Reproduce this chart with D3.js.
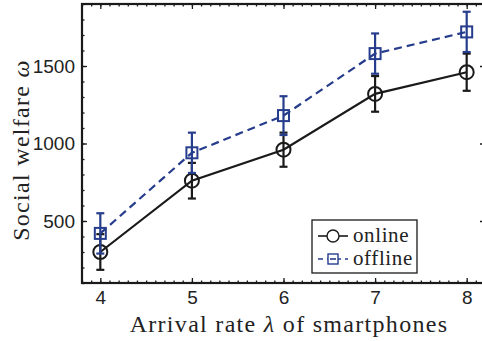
<!DOCTYPE html>
<html>
<head>
<meta charset="utf-8">
<script src="https://cdn.jsdelivr.net/npm/d3@7"></script>
<style>
  body { margin: 0; background: #fff; }
  svg { display: block; }
  .tick text { font-family: "Liberation Sans", Arial, sans-serif; font-size: 19px; fill: #222; }
  .title { font-family: "Liberation Serif", "DejaVu Serif", serif; font-size: 24px; letter-spacing: 1.3px; fill: #222; }
</style>
</head>
<body>
<svg></svg>
<script>
"use strict";

const rates = [4, 5, 6, 7, 8];
const onlineValues = [300, 760, 960, 1320, 1460];
const onlineErrors = [115, 115, 110, 115, 120];
const offlineValues = [420, 940, 1180, 1580, 1720];
const offlineErrors = [130, 130, 125, 130, 130];
const yTicks = [500, 1000, 1500];

const width = 482;
const height = 341;
const blue = "#263c8c";
const dark = "#1a1a1a";

const svg = d3.select("svg").attr("width", width).attr("height", height);

const xScale = d3.scaleLinear().domain([3.8, 8.2]).range([82, 485]);
const yScale = d3.scaleLinear().domain([100, 1900]).range([283, 4]);

const drawAxes = () => {
  const left = 82, right = 485, top = 4, bottom = 283;

  // minor ticks
  const xMinor = d3.range(38, 83).map((d) => d / 10);
  const yMinor = d3.range(100, 1901, 100);
  svg.append("g").attr("transform", `translate(0,${bottom})`)
    .call(d3.axisBottom(xScale).tickValues(xMinor).tickSize(-2.5).tickFormat(""));
  svg.append("g").attr("transform", `translate(0,${top})`)
    .call(d3.axisTop(xScale).tickValues(xMinor).tickSize(-2.5).tickFormat(""));
  svg.append("g").attr("transform", `translate(${left},0)`)
    .call(d3.axisLeft(yScale).tickValues(yMinor).tickSize(-2.5).tickFormat(""));
  svg.append("g").attr("transform", `translate(${right},0)`)
    .call(d3.axisRight(yScale).tickValues(yMinor).tickSize(-2.5).tickFormat(""));

  // major ticks
  const xAxis = svg.append("g").attr("transform", `translate(0,${bottom})`)
    .call(d3.axisBottom(xScale).tickValues(rates).tickSizeInner(-5).tickSizeOuter(0).tickPadding(8).tickFormat(d3.format("d")));
  xAxis.selectAll("text").attr("dy", "0.71em");
  svg.append("g").attr("transform", `translate(0,${top})`)
    .call(d3.axisTop(xScale).tickValues(rates).tickSizeInner(-5).tickSizeOuter(0).tickFormat(""));
  svg.append("g").attr("transform", `translate(${left},0)`)
    .call(d3.axisLeft(yScale).tickValues(yTicks).tickSizeInner(-5).tickSizeOuter(0).tickPadding(7).tickFormat(d3.format("d")));
  svg.append("g").attr("transform", `translate(${right},0)`)
    .call(d3.axisRight(yScale).tickValues(yTicks).tickSizeInner(-5).tickSizeOuter(0).tickFormat(""));

  svg.selectAll(".domain").remove();
  svg.selectAll(".tick line").attr("stroke", dark).attr("stroke-width", 1.3);

  svg.append("rect")
    .attr("x", left).attr("y", top)
    .attr("width", right - left).attr("height", bottom - top)
    .attr("fill", "none").attr("stroke", dark).attr("stroke-width", 2.2);
};

const drawSeries = (values, errors, color, dash, marker) => {
  const points = rates.map((r, i) => ({ x: r, y: values[i], e: errors[i] }));
  const g = svg.append("g");

  g.append("path")
    .datum(points)
    .attr("fill", "none")
    .attr("stroke", color)
    .attr("stroke-width", 2.2)
    .attr("stroke-dasharray", dash)
    .attr("d", d3.line().x((d) => xScale(d.x)).y((d) => yScale(d.y)));

  const bars = g.selectAll(".err").data(points).enter().append("g").attr("class", "err");
  bars.append("line")
    .attr("x1", (d) => xScale(d.x)).attr("x2", (d) => xScale(d.x))
    .attr("y1", (d) => yScale(d.y - d.e)).attr("y2", (d) => yScale(d.y + d.e))
    .attr("stroke", color).attr("stroke-width", 2.2);
  [-1, 1].forEach((s) => {
    bars.append("line")
      .attr("x1", (d) => xScale(d.x) - 4).attr("x2", (d) => xScale(d.x) + 4)
      .attr("y1", (d) => yScale(d.y + s * d.e)).attr("y2", (d) => yScale(d.y + s * d.e))
      .attr("stroke", color).attr("stroke-width", 2.2);
  });

  if (marker === "circle") {
    g.selectAll("circle").data(points).enter().append("circle")
      .attr("cx", (d) => xScale(d.x)).attr("cy", (d) => yScale(d.y))
      .attr("r", 7).attr("fill", "none").attr("stroke", color).attr("stroke-width", 2);
  } else {
    g.selectAll("rect").data(points).enter().append("rect")
      .attr("x", (d) => xScale(d.x) - 5.5).attr("y", (d) => yScale(d.y) - 5.5)
      .attr("width", 11).attr("height", 11)
      .attr("fill", "none").attr("stroke", color).attr("stroke-width", 2);
  }
};

const drawLegend = () => {
  const lg = svg.append("g").attr("transform", "translate(312,220)");
  lg.append("rect").attr("width", 105).attr("height", 53)
    .attr("fill", "#fff").attr("stroke", dark).attr("stroke-width", 1.3);

  const rows = [
    { label: "online", color: dark, dash: null, marker: "circle", y: 16 },
    { label: "offline", color: blue, dash: "5,4", marker: "square", y: 39 },
  ];
  rows.forEach((row) => {
    lg.append("line").attr("x1", 6).attr("x2", 36).attr("y1", row.y).attr("y2", row.y)
      .attr("stroke", row.color).attr("stroke-width", 1.6).attr("stroke-dasharray", row.dash);
    if (row.marker === "circle") {
      lg.append("circle").attr("cx", 21).attr("cy", row.y).attr("r", 6)
        .attr("fill", "#fff").attr("stroke", row.color).attr("stroke-width", 1.4);
    } else {
      lg.append("rect").attr("x", 16).attr("y", row.y - 5).attr("width", 10).attr("height", 10)
        .attr("fill", "#fff").attr("stroke", row.color).attr("stroke-width", 1.4);
      lg.append("line").attr("x1", 18).attr("x2", 24).attr("y1", row.y).attr("y2", row.y)
        .attr("stroke", row.color).attr("stroke-width", 1.6);
    }
    lg.append("text").attr("class", "title").attr("x", 41).attr("y", row.y + 6)
      .style("font-size", "21px").style("letter-spacing", "0.6px").text(row.label);
  });
};

const drawTitles = () => {
  const xt = svg.append("text").attr("class", "title")
    .attr("x", 289).attr("y", 332).attr("text-anchor", "middle");
  xt.append("tspan").text("Arrival rate ");
  xt.append("tspan").style("font-style", "italic").text("λ");
  xt.append("tspan").text(" of smartphones");

  const yt = svg.append("text").attr("class", "title")
    .attr("transform", "translate(29,150) rotate(-90)")
    .attr("text-anchor", "middle");
  yt.append("tspan").text("Social welfare ");
  yt.append("tspan").style("font-style", "italic").text("ω");
};

drawAxes();
drawSeries(onlineValues, onlineErrors, dark, null, "circle");
drawSeries(offlineValues, offlineErrors, blue, "8,5", "square");
drawLegend();
drawTitles();
</script>
</body>
</html>
